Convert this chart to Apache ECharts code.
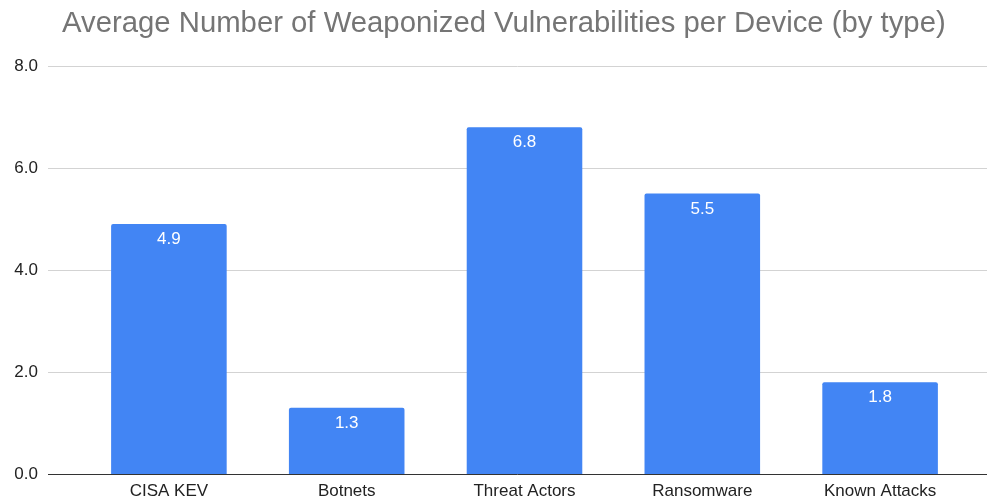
<!DOCTYPE html>
<html>
<head>
<meta charset="utf-8">
<script src="https://cdn.jsdelivr.net/npm/echarts@6/dist/echarts.min.js"></script>
<style>
  html, body { margin: 0; padding: 0; background: #ffffff; }
  #chart { width: 987px; height: 502px; }
</style>
</head>
<body>
<div id="chart"></div>
<script>
// Chart data
const titleText = 'Average Number of Weaponized Vulnerabilities per Device (by type)';
const categories = ['CISA KEV', 'Botnets', 'Threat Actors', 'Ransomware', 'Known Attacks'];
const values = [4.9, 1.3, 6.8, 5.5, 1.8];
const yMin = 0;
const yMax = 8;
const yStep = 2;

const chart = echarts.init(document.getElementById('chart'));

const labelFont = "'Liberation Sans', Arial, sans-serif";

chart.setOption({
  animation: false,
  title: {
    text: titleText,
    left: 57,
    top: 4,
    textStyle: {
      fontFamily: labelFont,
      fontSize: 29.3,
      fontWeight: 'normal',
      color: '#757575'
    }
  },
  grid: [
    // full-width grid carrying the gridlines, value labels and baseline
    { left: 48, right: 0, top: 66, bottom: 28 },
    // inner grid holding the bars
    { left: 80, right: 18, top: 66, bottom: 28 }
  ],
  xAxis: [
    {
      gridIndex: 0,
      type: 'value',
      min: 0,
      max: 1,
      axisLine: { show: false },
      axisTick: { show: false },
      axisLabel: { show: false },
      splitLine: { show: false }
    },
    {
      gridIndex: 1,
      type: 'category',
      data: categories,
      axisLine: { show: false },
      axisTick: { show: false },
      axisLabel: {
        fontFamily: labelFont,
        fontSize: 17,
        color: '#222222',
        margin: 9
      }
    }
  ],
  yAxis: [
    {
      gridIndex: 0,
      type: 'value',
      min: yMin,
      max: yMax,
      interval: yStep,
      axisLine: { show: false },
      axisTick: { show: false },
      axisLabel: {
        fontFamily: labelFont,
        fontSize: 17,
        color: '#222222',
        margin: 10,
        formatter: v => v.toFixed(1)
      },
      splitLine: { lineStyle: { color: '#d3d3d3', width: 1 } }
    },
    {
      gridIndex: 1,
      type: 'value',
      min: yMin,
      max: yMax,
      interval: yStep,
      axisLine: { show: false },
      axisTick: { show: false },
      axisLabel: { show: false },
      splitLine: { show: false }
    }
  ],
  series: [
    {
      type: 'line',
      xAxisIndex: 0,
      yAxisIndex: 0,
      data: [],
      markLine: {
        silent: true,
        symbol: 'none',
        label: { show: false },
        lineStyle: { color: '#333333', width: 1, type: 'solid' },
        data: [{ yAxis: 0 }]
      }
    },
    {
      type: 'bar',
      xAxisIndex: 1,
      yAxisIndex: 1,
      data: values,
      barWidth: '65%',
      itemStyle: { color: '#4285f4', borderRadius: [2, 2, 0, 0] },
      label: {
        show: true,
        position: 'insideTop',
        distance: 7,
        fontFamily: labelFont,
        fontSize: 17,
        color: '#ffffff',
        formatter: p => p.value.toFixed(1)
      },
      z: 3
    }
  ]
});
</script>
</body>
</html>
